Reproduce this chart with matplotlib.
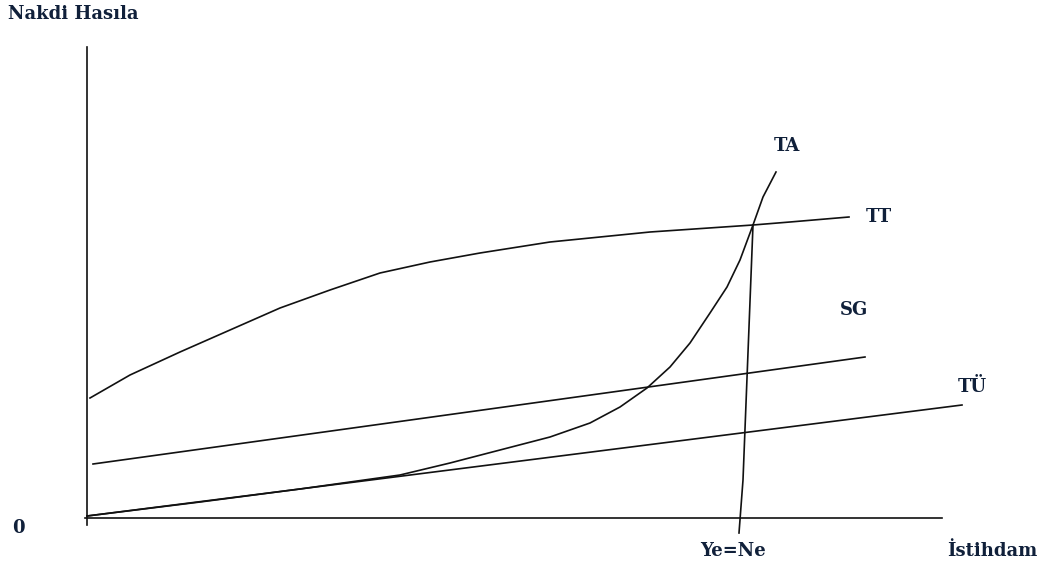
import matplotlib
matplotlib.use("Agg")
from matplotlib import pyplot as plt
import numpy as np

# data units: x = employment, y = nominal output (origin at axis corner)
tt_x = [3, 43, 93, 143, 193, 243, 293, 343, 393, 463, 563, 666, 703, 762]
tt_y = [120, 143, 166, 188, 210, 228, 245, 256, 265, 276, 286, 293, 296, 301]

ta_x = [0, 113, 213, 313, 363, 413, 463, 503, 533, 560, 583, 603, 623, 640, 653, 666, 676, 689]
ta_y = [2, 16, 29, 43, 55, 68, 81, 95, 111, 130, 151, 175, 205, 231, 258, 293, 321, 346]

sg_x = [6, 778]
sg_y = [54, 161]

tu_x = [0, 875]
tu_y = [2, 113]

ye_x = [666, 656, 652]
ye_y = [293, 38, -15]

labels = ["TA", "TT", "SG", "TÜ"]
label_x = [700, 792, 767, 885]
label_y = [372, 301, 208, 131]

serif = ["DejaVu Serif"]
fs = 13
tc = "#10203a"

fig = plt.figure(figsize=(10.43, 5.64), dpi=100)
ax = fig.add_axes([0, 0, 1, 1])
ax.set_xlim(-87, 1043 - 87)
ax.set_ylim(518 - 564, 518)
ax.axis("off")

lw = 1.2
col = "#111111"
# axes
ax.plot([0, 0], [-7, 471], color=col, lw=lw)
ax.plot([-2, 855], [0, 0], color=col, lw=lw)

ax.plot(tt_x, tt_y, color=col, lw=lw)
ax.plot(ta_x, ta_y, color=col, lw=lw)
ax.plot(sg_x, sg_y, color=col, lw=lw)
ax.plot(tu_x, tu_y, color=col, lw=lw)
ax.plot(ye_x, ye_y, color=col, lw=lw)

for t, x, y in zip(labels, label_x, label_y):
    ax.text(x, y, t, ha="center", va="center", fontsize=fs,
            fontweight="bold", family=serif, color=tc)

ax.text(-79, 504, "Nakdi Hasıla", ha="left", va="center", fontsize=fs,
        fontweight="bold", family=serif, color=tc)
ax.text(-69, -10, "0", ha="center", va="center", fontsize=fs,
        fontweight="bold", family=serif, color=tc)
ax.text(646, -33, "Ye=Ne", ha="center", va="center", fontsize=fs,
        fontweight="bold", family=serif, color=tc)
ax.text(905, -33, "İstihdam", ha="center", va="center", fontsize=fs,
        fontweight="bold", family=serif, color=tc)

fig.savefig("out.png", dpi=100)
